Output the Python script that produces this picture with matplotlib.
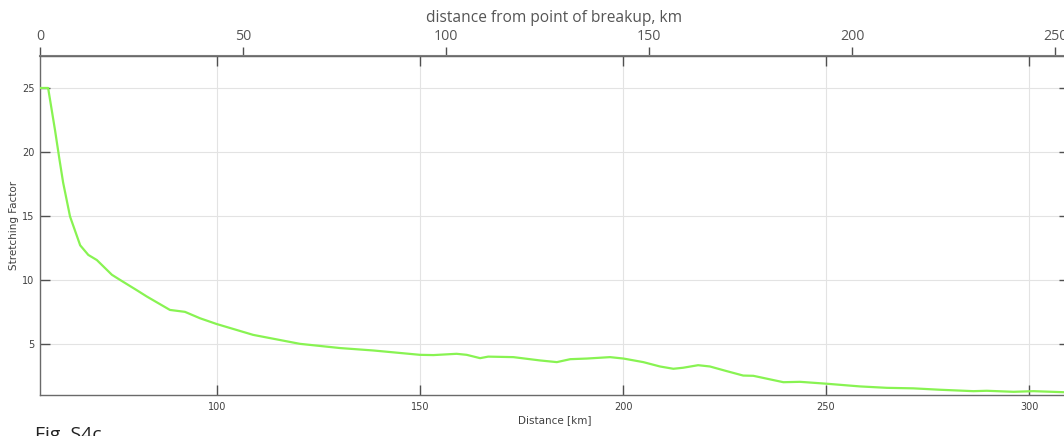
import matplotlib
matplotlib.use("Agg")
import matplotlib.pyplot as plt

# stretching factor along the profile
distancia_km = [56.4, 58.4, 60.1, 61.2, 62.1, 63.8, 66.3, 68.3, 70.4, 74.1, 76.1,
                80.2, 82.7, 88.4, 92.1, 95.8, 99.9, 108.9, 120.4, 130.3, 138.5,
                150.0, 153.3, 159.0, 161.5, 164.8, 166.8, 173.0, 179.6, 183.7,
                187.0, 191.1, 196.8, 200.1, 205.0, 209.1, 212.4, 214.8, 218.5,
                221.4, 225.5, 229.6, 232.1, 239.5, 243.6, 250.2, 258.4, 265.0,
                271.5, 278.1, 286.3, 289.6, 296.2, 301.1, 308.4]
factor = [25.0, 25.0, 21.7, 19.4, 17.6, 14.95, 12.7, 11.95, 11.55, 10.4, 10.0,
          9.2, 8.7, 7.65, 7.5, 7.0, 6.55, 5.7, 5.0, 4.67, 4.48,
          4.14, 4.12, 4.22, 4.14, 3.88, 4.0, 3.96, 3.7, 3.57,
          3.8, 3.85, 3.96, 3.85, 3.57, 3.23, 3.05, 3.13, 3.33,
          3.23, 2.87, 2.52, 2.5, 2.0, 2.03, 1.88, 1.67, 1.56,
          1.52, 1.41, 1.3, 1.33, 1.25, 1.3, 1.22]

x_ticks = [100, 150, 200, 250, 300]
y_ticks = [5, 10, 15, 20, 25]
top_ticks = [0, 50, 100, 150, 200, 250]
origen = 56.4  # punto de ruptura en km del perfil

W, H = 1064, 436
fig = plt.figure(figsize=(W / 100, H / 100), dpi=100)
ax = fig.add_axes([40 / W, (H - 395) / H, (1069 - 40) / W, (395 - 56) / H])

ax.plot(distancia_km, factor, color="#88f352", lw=1.6, zorder=3)

ax.set_xlim(origen, origen + (1069 - 40) / 4.06)
ax.set_ylim(1.0, 27.5)
ax.set_xticks(x_ticks)
ax.set_yticks(y_ticks)
ax.grid(True, color="#e3e3e3", lw=0.8)
ax.set_axisbelow(True)

gris = "#6a6a6a"
for s in ax.spines.values():
    s.set_color(gris)
    s.set_linewidth(1.0)
ax.tick_params(direction="in", length=7.2, width=1, color="#505050",
               labelsize=7, labelcolor="#404040", top=True, right=True,
               pad=5)
ax.tick_params(axis="y", pad=4)
ax.set_xlabel("Distance [km]", fontsize=7.5, color="#404040", labelpad=2)
ax.set_ylabel("Stretching Factor", fontsize=7.5, color="#404040", labelpad=2)

# eje superior: distancia desde el punto de ruptura
sec = ax.secondary_xaxis("top", functions=(lambda x: x - origen,
                                           lambda x: x + origen))
sec.set_xticks(top_ticks)
sec.spines["top"].set_color("#808080")
sec.spines["top"].set_linewidth(1.5)
sec.tick_params(direction="out", length=6.5, width=1, color="#505050",
                labelsize=10.2, labelcolor="#555555", pad=2)
for t in sec.get_xticklabels():
    t.set_family("Open Sans")
sec.set_xlabel("distance from point of breakup, km", fontsize=11.2,
               color="#555555", family="Open Sans", labelpad=5)

fig.text(35 / W, (H - 426) / H, "Fig. S4c", fontsize=14, color="#222222",
         family="Open Sans", va="top", ha="left")

fig.savefig("out.png", dpi=100)
